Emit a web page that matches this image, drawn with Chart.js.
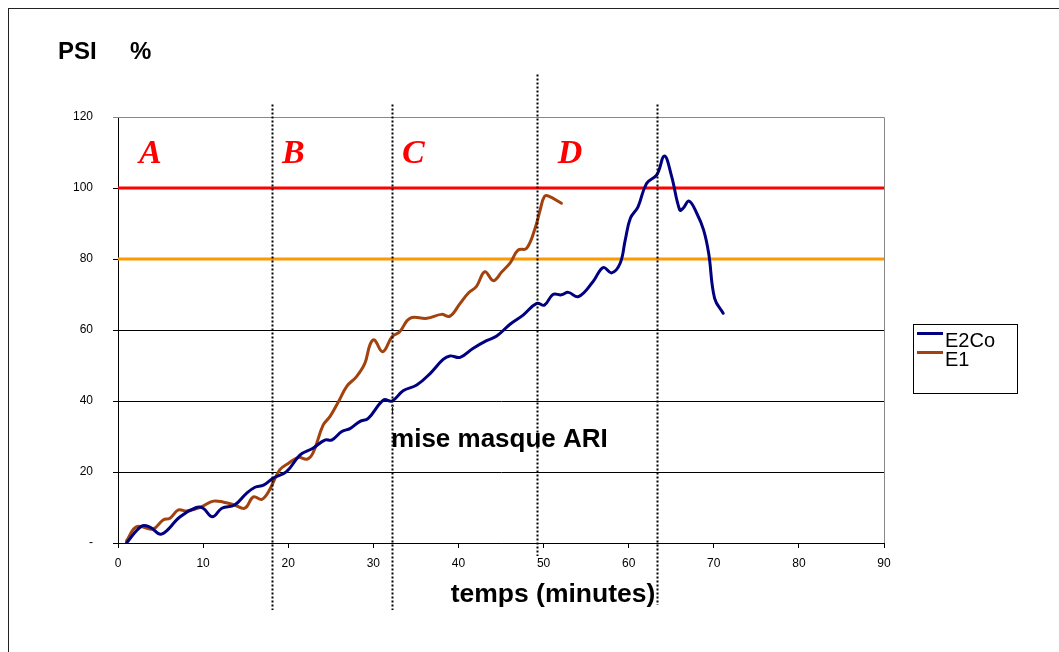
<!DOCTYPE html>
<html lang="fr">
<head>
    <meta charset="UTF-8">
    <title>PSI %</title>
    <script src="https://cdn.jsdelivr.net/npm/chart.js"></script>
    <style>
        body {
            margin: 0;
            background: #fff;
        }
        #wrap {
            width: 1059px;
            height: 652px;
        }
    </style>
</head>
<body>
    <div id="wrap">
        <canvas id="psiChart" width="1059" height="652"></canvas>
    </div>

    <script>
        // E2Co series (minutes, PSI %)
        const e2coTime = [1.0, 2.8, 3.8, 5.1, 7.3, 9.2, 10.0, 11.1, 12.2, 13.7, 15.1, 16.1, 17.1, 18.2, 19.8, 21.4, 22.9, 24.3, 25.1, 26.3, 27.3, 28.4, 29.4, 31.2, 32.2, 33.5, 35.1, 36.7, 38.2, 39.0, 40.2, 41.7, 43.3, 44.5, 46.1, 47.6, 49.2, 50.1, 51.1, 52.1, 52.9, 54.1, 55.8, 57.0, 58.0, 59.0, 59.6, 60.2, 61.1, 62.1, 63.3, 64.2, 65.0, 66.0, 66.4, 67.1, 68.0, 68.8, 69.4, 70.1, 71.1];
        const e2coPsi  = [0.0, 4.8, 4.4, 2.5, 7.4, 10.0, 9.8, 7.4, 9.8, 10.7, 14.0, 15.7, 16.3, 18.2, 20.1, 24.8, 26.7, 29.0, 29.0, 31.4, 32.3, 34.2, 35.1, 40.3, 40.0, 42.9, 44.5, 47.8, 51.7, 52.7, 52.3, 54.8, 57.0, 58.3, 61.7, 64.2, 67.5, 67.0, 70.0, 69.9, 70.6, 69.4, 73.6, 77.6, 76.1, 78.8, 85.4, 91.5, 94.7, 101.3, 103.7, 109.0, 103.7, 93.8, 94.3, 96.3, 92.9, 88.2, 81.6, 68.9, 64.7];

        // E1 series
        const e1Time = [1.0, 2.2, 4.1, 5.3, 6.1, 7.1, 8.1, 9.8, 11.2, 12.4, 13.7, 14.9, 15.9, 16.9, 17.7, 19.0, 20.0, 21.2, 22.2, 22.9, 24.1, 24.9, 25.9, 26.9, 28.0, 29.0, 29.6, 30.1, 31.1, 32.2, 33.1, 34.3, 36.3, 38.0, 39.0, 40.2, 41.2, 42.1, 43.1, 44.1, 45.1, 46.1, 47.0, 48.0, 49.0, 49.6, 50.1, 50.6, 52.1];
        const e1Psi  = [0.6, 4.6, 3.9, 6.5, 7.0, 9.3, 9.0, 10.2, 11.8, 11.5, 10.7, 9.8, 13.0, 12.3, 14.5, 20.6, 22.4, 24.1, 23.6, 25.3, 33.2, 35.6, 39.8, 44.2, 46.8, 50.6, 55.8, 57.2, 53.9, 58.1, 59.5, 63.3, 63.3, 64.4, 63.9, 67.5, 70.5, 72.2, 76.4, 73.9, 76.4, 79.0, 82.5, 83.0, 88.6, 93.8, 97.6, 97.7, 95.7];

        // threshold lines
        const refLevels = [100, 80];
        const refColors = ['#ff0000', '#ff9900'];
        const refSpan = [0, 90];

        // phase markers (minutes) and their letters
        const phaseTimes = [18.1, 32.2, 49.2, 63.3];
        const phaseLetters = ['A', 'B', 'C', 'D'];
        const letterTimes = [3.8, 20.6, 34.7, 53.1];
        const letterLevel = 109.5;

        const xTicks = [0, 10, 20, 30, 40, 50, 60, 70, 80, 90];
        const yTicks = [0, 20, 40, 60, 80, 100, 120];

        const toPoints = (xs, ys) => xs.map((x, i) => ({ x: x, y: ys[i] }));

        const datasets = [
            {
                label: 'E2Co',
                data: toPoints(e2coTime, e2coPsi),
                borderColor: '#000080',
                borderWidth: 3,
                order: 0
            },
            {
                label: 'E1',
                data: toPoints(e1Time, e1Psi),
                borderColor: '#a2420e',
                borderWidth: 3,
                order: 0
            }
        ];
        refLevels.forEach((lvl, i) => {
            datasets.push({
                label: 'ref' + lvl,
                data: refSpan.map(x => ({ x: x, y: lvl })),
                borderColor: refColors[i],
                borderWidth: 3,
                tension: 0,
                order: 1
            });
        });

        const decorations = {
            id: 'decorations',
            beforeDraw(chart) {
                const ctx = chart.ctx;
                ctx.save();
                ctx.fillStyle = '#fff';
                ctx.fillRect(0, 0, chart.width, chart.height);
                // outer frame
                ctx.strokeStyle = '#222';
                ctx.lineWidth = 1;
                ctx.strokeRect(8.5, 8.5, chart.width + 20, chart.height + 20);
                ctx.restore();
            },
            afterDatasetsDraw(chart) {
                const ctx = chart.ctx;
                const a = chart.chartArea;
                const xs = chart.scales.x;
                const ys = chart.scales.y;
                ctx.save();
                // plot area border top/right
                ctx.strokeStyle = '#888';
                ctx.lineWidth = 1;
                ctx.beginPath();
                ctx.moveTo(a.left, a.top + 0.5);
                ctx.lineTo(a.right + 0.5, a.top + 0.5);
                ctx.lineTo(a.right + 0.5, a.bottom);
                ctx.stroke();

                // dotted phase lines
                ctx.strokeStyle = '#000';
                ctx.lineWidth = 2;
                ctx.setLineDash([2, 2]);
                const tops = [123.5, 123.5, 132, 123.5];
                const bottoms = [610, 610, 556, 605];
                phaseTimes.forEach((t, i) => {
                    const px = Math.round(xs.getPixelForValue(t)) + 0.5;
                    ctx.beginPath();
                    ctx.moveTo(px, ys.getPixelForValue(tops[i]));
                    ctx.lineTo(px, bottoms[i]);
                    ctx.stroke();
                });
                ctx.setLineDash([]);

                // phase letters
                ctx.fillStyle = '#ff0000';
                ctx.font = 'italic bold 34px "Liberation Serif", "DejaVu Serif", serif';
                ctx.textAlign = 'center';
                ctx.textBaseline = 'middle';
                phaseLetters.forEach((l, i) => {
                    ctx.fillText(l, xs.getPixelForValue(letterTimes[i]), ys.getPixelForValue(letterLevel));
                });

                // annotation
                ctx.fillStyle = '#000';
                ctx.textAlign = 'left';
                ctx.font = 'bold 26px "Liberation Sans", Arial, sans-serif';
                ctx.fillText('mise masque ARI', xs.getPixelForValue(32.2) - 1, ys.getPixelForValue(29));
                ctx.font = '10px "Liberation Sans", Arial, sans-serif';
                ctx.fillText('î', xs.getPixelForValue(32.2) - 1, ys.getPixelForValue(37.5));

                // titles
                ctx.textBaseline = 'alphabetic';
                ctx.font = 'bold 24px "Liberation Sans", Arial, sans-serif';
                ctx.fillText('PSI', 58, 59);
                ctx.fillText('%', 130, 59);
                ctx.textAlign = 'center';
                ctx.font = 'bold 26.5px "Liberation Sans", Arial, sans-serif';
                ctx.fillText('temps (minutes)', 553, 602);

                // legend
                const lx = 913, ly = 324;
                ctx.strokeStyle = '#000';
                ctx.lineWidth = 1;
                ctx.strokeRect(lx + 0.5, ly + 0.5, 104, 69);
                ctx.font = '20px "Liberation Sans", Arial, sans-serif';
                ctx.textAlign = 'left';
                chart.data.datasets.slice(0, 2).forEach((ds, i) => {
                    const base = ly + 23 + i * 19;
                    ctx.strokeStyle = ds.borderColor;
                    ctx.lineWidth = 3;
                    ctx.beginPath();
                    ctx.moveTo(lx + 4, base - 13.5);
                    ctx.lineTo(lx + 30, base - 13.5);
                    ctx.stroke();
                    ctx.fillStyle = '#000';
                    ctx.fillText(ds.label, lx + 32, base);
                });
                ctx.restore();
            }
        };

        Chart.defaults.font.family = '"Liberation Sans", Arial, sans-serif';
        Chart.defaults.color = '#000';

        new Chart(document.getElementById('psiChart'), {
            type: 'scatter',
            data: { datasets: datasets },
            options: {
                responsive: false,
                animation: false,
                showLine: true,
                layout: { padding: { left: 0, top: 117, right: 175, bottom: 79 } },
                elements: {
                    point: { radius: 0 },
                    line: { tension: 0.4, borderCapStyle: 'round', borderJoinStyle: 'round' }
                },
                plugins: {
                    legend: { display: false },
                    tooltip: { enabled: false }
                },
                scales: {
                    x: {
                        type: 'linear',
                        min: 0,
                        max: 90,
                        afterBuildTicks: s => { s.ticks = xTicks.map(v => ({ value: v })); },
                        afterFit: s => { s.height = 30; },
                        ticks: { font: { size: 12 }, padding: 8, maxRotation: 0 },
                        grid: { drawOnChartArea: false, drawTicks: true, tickLength: 5, color: '#000' },
                        border: { color: '#000', width: 1 }
                    },
                    y: {
                        min: 0,
                        max: 120,
                        afterBuildTicks: s => { s.ticks = yTicks.map(v => ({ value: v })); },
                        afterFit: s => { s.width = 118; },
                        ticks: {
                            font: { size: 12 },
                            padding: 20,
                            callback: v => (v === 0 ? '-' : v)
                        },
                        grid: {
                            color: c => (c.tick && c.tick.value === 120 ? '#888' : '#000'),
                            tickLength: 5,
                            lineWidth: 1
                        },
                        border: { color: '#000', width: 1 }
                    }
                }
            },
            plugins: [decorations]
        });
    </script>
</body>
</html>
